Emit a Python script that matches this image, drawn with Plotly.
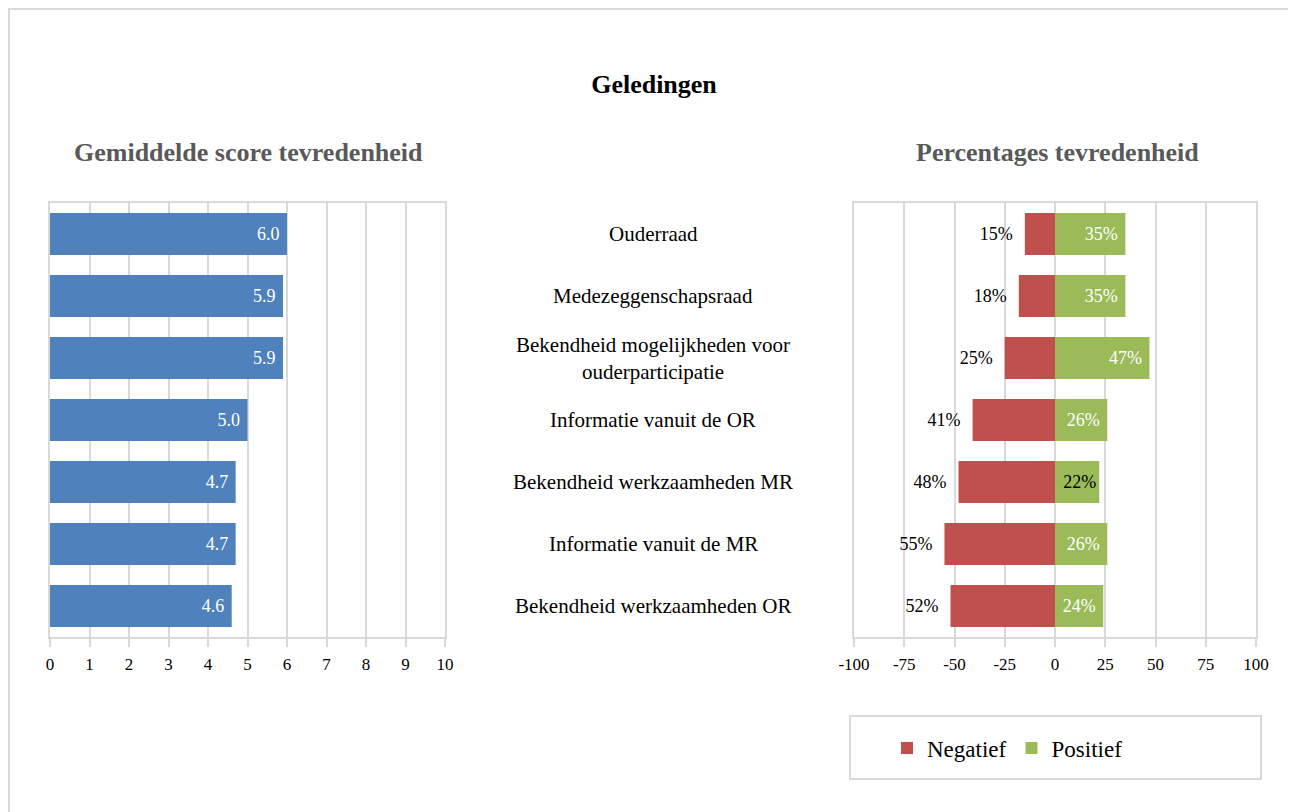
import plotly.graph_objects as go

# Data
categories = [
    "Ouderraad",
    "Medezeggenschapsraad",
    "Bekendheid mogelijkheden voor<br>ouderparticipatie",
    "Informatie vanuit de OR",
    "Bekendheid werkzaamheden MR",
    "Informatie vanuit de MR",
    "Bekendheid werkzaamheden OR",
]
scores = [6.0, 5.9, 5.9, 5.0, 4.7, 4.7, 4.6]
negatief = [15, 18, 25, 41, 48, 55, 52]
positief = [35, 35, 47, 26, 22, 26, 24]
score_ticks = list(range(0, 11))
pct_ticks = [-100, -75, -50, -25, 0, 25, 50, 75, 100]

FONT = "Liberation Serif, Times New Roman, serif"
GRID = "#D9D9D9"
BLUE = "#4F81BD"
RED = "#C0504D"
GREEN = "#9BBB59"
PAD = "&nbsp;"

W, H = 1296, 812
OFF = 8  # page body margin


def px_x(v):
    return (v - OFF) / W


def px_y(v):
    return 1 - (v - OFF) / H


fig = go.Figure()

fig.add_trace(go.Bar(
    y=categories, x=scores, orientation="h",
    marker=dict(color=BLUE, line_width=0), width=0.68,
    text=[f"{v:.1f}{PAD}" for v in scores], textposition="inside",
    insidetextanchor="end", constraintext="none",
    textfont=dict(family=FONT, size=18, color="white"),
    xaxis="x", yaxis="y", showlegend=False, hoverinfo="x+y",
))

fig.add_trace(go.Bar(
    name="Negatief", y=categories, x=[-v for v in negatief], orientation="h",
    marker=dict(color=RED, line_width=0), width=0.68,
    text=[f"{v}%{PAD}{PAD}" for v in negatief], textposition="outside", cliponaxis=False,
    constraintext="none",
    textfont=dict(family=FONT, size=18, color="black"),
    xaxis="x2", yaxis="y2",
))

pos_colors = ["black" if v < 23 else "white" for v in positief]
fig.add_trace(go.Bar(
    name="Positief", y=categories, x=positief, orientation="h",
    marker=dict(color=GREEN, line_width=0), width=0.68,
    text=[f"{v}%{PAD}" if v >= 23 else f"{v}%" for v in positief], textposition="inside",
    insidetextanchor="end", constraintext="none",
    textfont=dict(family=FONT, size=18, color=pos_colors),
    xaxis="x2", yaxis="y2",
))

ydom = [px_y(637), px_y(203)]

axis_common = dict(
    showgrid=True, gridcolor=GRID, gridwidth=1.5,
    showline=True, linecolor=GRID, linewidth=1.5, mirror=True,
    ticks="outside", ticklen=8, tickcolor=GRID, tickwidth=1.5,
    tickfont=dict(family=FONT, size=17, color="black"),
    ticklabelstandoff=3,
    zeroline=False, fixedrange=True,
)

fig.update_layout(
    width=W, height=H,
    margin=dict(l=0, r=0, t=0, b=0, autoexpand=False),
    paper_bgcolor="white", plot_bgcolor="white",
    barmode="relative",
    font=dict(family=FONT, color="black"),
    xaxis=dict(domain=[px_x(50), px_x(445)], range=[0, 10], tickvals=score_ticks,
               anchor="y", **axis_common),
    yaxis=dict(domain=ydom, autorange="reversed", showticklabels=False,
               showline=True, linecolor=GRID, linewidth=1.5, mirror=True,
               showgrid=False, anchor="x", fixedrange=True),
    xaxis2=dict(domain=[px_x(854), px_x(1256)], range=[-100, 100], tickvals=pct_ticks,
                ticktext=[str(t) for t in pct_ticks], anchor="y2", **axis_common),
    yaxis2=dict(domain=ydom, autorange="reversed", showticklabels=False,
                showline=True, linecolor=GRID, linewidth=1.5, mirror=True,
                showgrid=False, anchor="x2", fixedrange=True),
    showlegend=True,
    legend=dict(
        orientation="h", x=px_x(887), y=px_y(748), xanchor="left", yanchor="middle",
        font=dict(family=FONT, size=23, color="black"),
        bgcolor="rgba(0,0,0,0)", traceorder="normal",
    ),
    title=dict(text="<b>Geledingen</b>", x=px_x(654), xanchor="center",
               y=px_y(84), yanchor="middle",
               font=dict(family=FONT, size=26, color="black")),
)

# subtitles
fig.add_annotation(text="<b>Gemiddelde score tevredenheid</b>", xref="paper", yref="paper",
                   x=px_x(248), y=px_y(152), xanchor="center", yanchor="middle",
                   showarrow=False, font=dict(family=FONT, size=26, color="#595959"))
fig.add_annotation(text="<b>Percentages tevredenheid</b>", xref="paper", yref="paper",
                   x=px_x(1057), y=px_y(152), xanchor="center", yanchor="middle",
                   showarrow=False, font=dict(family=FONT, size=26, color="#595959"))

# category labels in the middle
for c in categories:
    fig.add_annotation(text=c, xref="paper", yref="y", x=px_x(653), y=c,
                       xanchor="center", showarrow=False, align="center",
                       font=dict(family=FONT, size=21, color="black"))

# outer chart border and legend box
fig.add_shape(type="rect", xref="paper", yref="paper",
              x0=px_x(9), x1=1.02, y0=-0.02, y1=px_y(9),
              line=dict(color=GRID, width=2))
fig.add_shape(type="rect", xref="paper", yref="paper",
              x0=px_x(850), x1=px_x(1261), y0=px_y(779), y1=px_y(716),
              line=dict(color=GRID, width=2))

fig.write_html("out.html")
